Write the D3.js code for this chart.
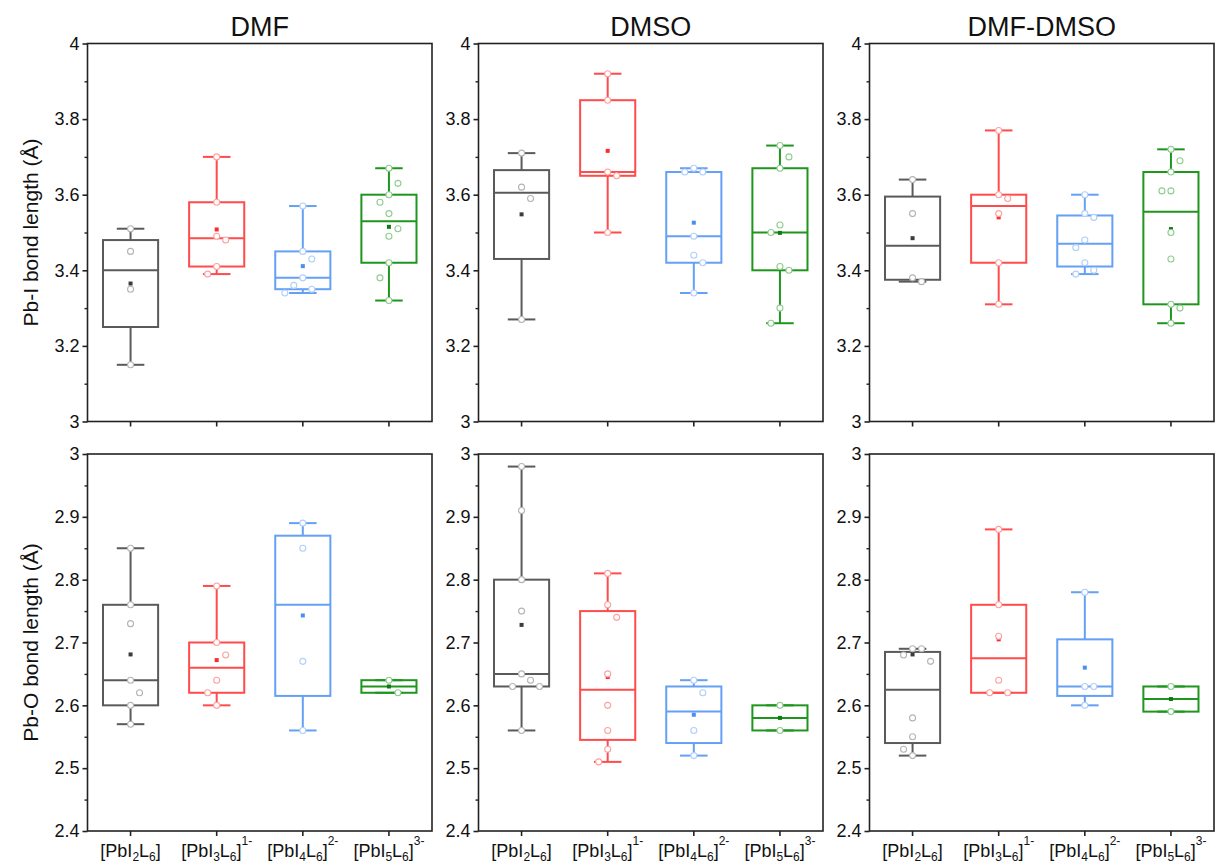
<!DOCTYPE html>
<html>
<head>
<meta charset="utf-8">
<script src="https://cdn.jsdelivr.net/npm/d3@7"></script>
<style>
  html, body { margin: 0; padding: 0; background: #fff; }
  svg { display: block; font-family: "Liberation Sans", Arial, Helvetica, sans-serif; }
</style>
</head>
<body>
<svg id="chart" width="1215" height="868"></svg>
<script>
// ---- data ----------------------------------------------------------------
const solvents = ["DMF", "DMSO", "DMF-DMSO"];
const categories = ["PbI2L6", "PbI3L6", "PbI4L6", "PbI5L6"];
// tick label pieces: [text, mode] with mode "" normal, "sub", "sup"
const categoryLabels = [
  [["[PbI", ""], ["2", "sub"], ["L", ""], ["6", "sub"], ["]", ""]],
  [["[PbI", ""], ["3", "sub"], ["L", ""], ["6", "sub"], ["]", ""], ["1-", "sup"]],
  [["[PbI", ""], ["4", "sub"], ["L", ""], ["6", "sub"], ["]", ""], ["2-", "sup"]],
  [["[PbI", ""], ["5", "sub"], ["L", ""], ["6", "sub"], ["]", ""], ["3-", "sup"]]
];

// Pb-I bond lengths (Å), one list per complex
const pbI_DMF = [
  [3.51, 3.45, 3.35, 3.15],
  [3.70, 3.58, 3.49, 3.48, 3.41, 3.39],
  [3.57, 3.45, 3.43, 3.38, 3.36, 3.35, 3.34],
  [3.67, 3.63, 3.60, 3.58, 3.55, 3.51, 3.49, 3.42, 3.38, 3.32]
];
const pbI_DMSO = [
  [3.71, 3.62, 3.59, 3.27],
  [3.92, 3.85, 3.66, 3.65, 3.50],
  [3.67, 3.66, 3.66, 3.49, 3.44, 3.42, 3.34],
  [3.73, 3.70, 3.67, 3.52, 3.50, 3.41, 3.40, 3.30, 3.26]
];
const pbI_MIX = [
  [3.64, 3.55, 3.38, 3.37],
  [3.77, 3.60, 3.59, 3.55, 3.42, 3.31],
  [3.60, 3.55, 3.54, 3.48, 3.46, 3.42, 3.40, 3.39],
  [3.72, 3.69, 3.66, 3.61, 3.61, 3.50, 3.43, 3.31, 3.30, 3.26]
];
// Pb-O bond lengths (Å)
const pbO_DMF = [
  [2.85, 2.76, 2.73, 2.64, 2.62, 2.60, 2.57],
  [2.79, 2.70, 2.68, 2.64, 2.62, 2.60],
  [2.89, 2.85, 2.67, 2.56],
  [2.64, 2.62]
];
const pbO_DMSO = [
  [2.98, 2.91, 2.80, 2.75, 2.65, 2.64, 2.63, 2.63, 2.56],
  [2.81, 2.76, 2.74, 2.65, 2.60, 2.56, 2.53, 2.51],
  [2.64, 2.62, 2.56, 2.52],
  [2.60, 2.56]
];
const pbO_MIX = [
  [2.69, 2.69, 2.68, 2.67, 2.58, 2.55, 2.53, 2.52],
  [2.88, 2.76, 2.71, 2.64, 2.62, 2.62],
  [2.78, 2.63, 2.63, 2.60],
  [2.63, 2.59]
];

// mean markers
const meanPbI_DMF  = [3.365, 3.508, 3.411, 3.515];
const meanPbI_DMSO = [3.548, 3.716, 3.526, 3.499];
const meanPbI_MIX  = [3.485, 3.540, 3.480, 3.509];
const meanPbO_DMF  = [2.681, 2.672, 2.743, 2.630];
const meanPbO_DMSO = [2.728, 2.645, 2.585, 2.580];
const meanPbO_MIX  = [2.681, 2.705, 2.660, 2.610];

// axis ranges and ticks
const pbIDomain = [3, 4];
const pbITicks = [3, 3.2, 3.4, 3.6, 3.8, 4];
const pbIMinor = [3.1, 3.3, 3.5, 3.7, 3.9];
const pbODomain = [2.4, 3];
const pbOTicks = [2.4, 2.5, 2.6, 2.7, 2.8, 2.9, 3];
const pbOMinor = [2.45, 2.55, 2.65, 2.75, 2.85, 2.95];

const rowTitles = ["Pb-I bond length (Å)", "Pb-O bond length (Å)"];

// ---- styling ---------------------------------------------------------------
const lineColors  = ["#5a5a5a", "#ff4b4b", "#64a0f4", "#1e961e"];
const pointColors = ["#b4b4b4", "#ffa0a0", "#b0cff9", "#90cc90"];
const meanColors  = ["#3c3c3c", "#ff2a2a", "#4a8ef0", "#107a10"];

const panelLeft = [87.5, 478.5, 869.5];
const panelWidth = 344.5;
const rowTop = [43.5, 454];
const rowBottom = [421.5, 831];

const rows = [
  { domain: pbIDomain, ticks: pbITicks, minor: pbIMinor,
    fmt: d3.format(".1~f"),
    sets: [pbI_DMF, pbI_DMSO, pbI_MIX], means: [meanPbI_DMF, meanPbI_DMSO, meanPbI_MIX] },
  { domain: pbODomain, ticks: pbOTicks, minor: pbOMinor,
    fmt: d3.format(".1~f"),
    sets: [pbO_DMF, pbO_DMSO, pbO_MIX], means: [meanPbO_DMF, meanPbO_DMSO, meanPbO_MIX] }
];

// quantile from the empirical distribution, averaging at jumps
function quantileAvg(sorted, p) {
  const n = sorted.length;
  const m = n * p;
  const k = Math.floor(m + 1e-9);
  if (Math.abs(m - Math.round(m)) < 1e-9) {
    const i = Math.round(m);
    if (i <= 0) return sorted[0];
    if (i >= n) return sorted[n - 1];
    return (sorted[i - 1] + sorted[i]) / 2;
  }
  return sorted[Math.min(n - 1, k)];
}

// spread overlapping points sideways in fixed slots, balancing both sides
function swarm(values, y, step, gap) {
  const order = values.map((v, i) => i).sort((a, b) => values[b] - values[a]);
  const placed = [];
  const out = new Array(values.length);
  let flip = 1;
  order.forEach(i => {
    const py = y(values[i]);
    const free = s => !placed.some(p => p.s === s && Math.abs(p.py - py) < gap);
    let chosen = null;
    if (free(0)) chosen = 0;
    for (let d = 1; chosen === null && d <= 5; d++) {
      const a = flip * d, b = -flip * d;
      if (free(a)) chosen = a;
      else if (free(b)) chosen = b;
    }
    if (chosen === null) chosen = 0;
    if (chosen !== 0) flip = -Math.sign(chosen);
    placed.push({ s: chosen, py });
    out[i] = chosen * step;
  });
  return out;
}

const svg = d3.select("#chart");
svg.append("rect").attr("width", 1215).attr("height", 868).attr("fill", "#fff");

rows.forEach((row, r) => {
  const y = d3.scaleLinear().domain(row.domain).range([rowBottom[r], rowTop[r]]);

  // row label
  svg.append("text")
    .attr("transform", `translate(30,${(rowTop[r] + rowBottom[r]) / 2}) rotate(-90)`)
    .attr("text-anchor", "middle")
    .attr("dominant-baseline", "central")
    .attr("font-size", 21)
    .attr("fill", "#111")
    .text(rowTitles[r]);

  solvents.forEach((solvent, c) => {
    const x0 = panelLeft[c];
    const x = d3.scaleBand().domain(categories).range([x0, x0 + panelWidth]).padding(0);
    const g = svg.append("g");
    const boxW = x.bandwidth() * 0.64;

    if (r === 0) {
      svg.append("text")
        .attr("x", x0 + panelWidth / 2).attr("y", 36)
        .attr("text-anchor", "middle")
        .attr("font-size", 27)
        .attr("fill", "#111")
        .text(solvent);
    }

    // boxes
    row.sets[c].forEach((vals, k) => {
      const cx = x(categories[k]) + x.bandwidth() / 2;
      const s = vals.slice().sort(d3.ascending);
      const q1 = quantileAvg(s, 0.25), med = quantileAvg(s, 0.5), q3 = quantileAvg(s, 0.75);
      const lo = s[0], hi = s[s.length - 1];
      const col = lineColors[k];
      const bg = g.append("g").attr("stroke", col).attr("stroke-width", 2).attr("fill", "none");
      // whiskers
      bg.append("line").attr("x1", cx).attr("x2", cx).attr("y1", y(hi)).attr("y2", y(q3));
      bg.append("line").attr("x1", cx).attr("x2", cx).attr("y1", y(q1)).attr("y2", y(lo));
      bg.append("line").attr("x1", cx - boxW / 4).attr("x2", cx + boxW / 4).attr("y1", y(hi)).attr("y2", y(hi));
      bg.append("line").attr("x1", cx - boxW / 4).attr("x2", cx + boxW / 4).attr("y1", y(lo)).attr("y2", y(lo));
      // box and median
      bg.append("rect").attr("x", cx - boxW / 2).attr("y", y(q3))
        .attr("width", boxW).attr("height", Math.max(0.5, y(q1) - y(q3)));
      bg.append("line").attr("x1", cx - boxW / 2).attr("x2", cx + boxW / 2).attr("y1", y(med)).attr("y2", y(med));

      // mean marker
      const mv = row.means[c][k];
      g.append("rect").attr("x", cx - 2).attr("y", y(mv) - 2).attr("width", 4).attr("height", 4)
        .attr("fill", meanColors[k]);

      // individual values
      const offs = swarm(vals, y, 9, 16);
      g.append("g").selectAll("circle").data(vals).join("circle")
        .attr("cx", (d, i) => cx + offs[i])
        .attr("cy", d => y(d))
        .attr("r", 3)
        .attr("fill", "#fff")
        .attr("stroke", pointColors[k])
        .attr("stroke-width", 1.1);
    });

    // frame
    svg.append("rect")
      .attr("x", x0).attr("y", rowTop[r])
      .attr("width", panelWidth).attr("height", rowBottom[r] - rowTop[r])
      .attr("fill", "none").attr("stroke", "#222").attr("stroke-width", 1.6);

    // y axis: labelled ticks and minor ticks
    const ya = svg.append("g").attr("transform", `translate(${x0},0)`)
      .call(d3.axisLeft(y).tickValues(row.ticks).tickSize(5).tickPadding(3).tickFormat(row.fmt));
    ya.select(".domain").remove();
    ya.selectAll(".tick line").attr("stroke", "#222").attr("stroke-width", 1.6);
    ya.selectAll(".tick text").attr("font-size", 18).attr("fill", "#111")
      .attr("font-family", "Liberation Sans, Arial, sans-serif");
    const ym = svg.append("g").attr("transform", `translate(${x0},0)`)
      .call(d3.axisLeft(y).tickValues(row.minor).tickSize(3).tickFormat(""));
    ym.select(".domain").remove();
    ym.selectAll(".tick line").attr("stroke", "#222").attr("stroke-width", 1.4);

    // x axis ticks
    const xa = svg.append("g").attr("transform", `translate(0,${rowBottom[r]})`)
      .call(d3.axisBottom(x).tickSize(5).tickFormat(""));
    xa.select(".domain").remove();
    xa.selectAll(".tick line").attr("stroke", "#222").attr("stroke-width", 1.6);

    if (r === 1) {
      categories.forEach((cat, k) => {
        const t = svg.append("text")
          .attr("x", x(cat) + x.bandwidth() / 2)
          .attr("y", 857)
          .attr("text-anchor", "middle")
          .attr("font-size", 18)
          .attr("fill", "#111");
        categoryLabels[k].forEach(([txt, mode]) => {
          const sp = t.append("tspan").text(txt);
          if (mode === "sub") sp.attr("font-size", 12).attr("dy", 4);
          else if (mode === "sup") sp.attr("font-size", 12).attr("dy", -12);
          // return to the baseline after a shifted piece
          else if (sp.node().previousSibling && sp.node().previousSibling.getAttribute("dy") === "4") sp.attr("dy", -4);
        });
      });
    }
  });
});
</script>
</body>
</html>
